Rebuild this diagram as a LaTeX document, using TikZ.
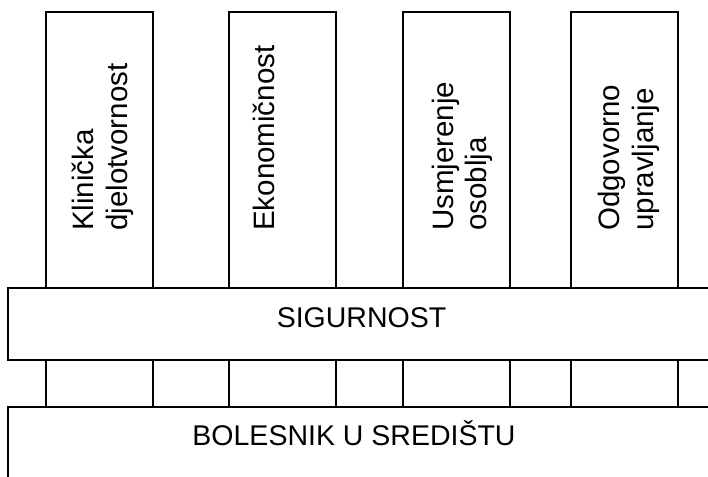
\documentclass[tikz,border=0pt]{standalone}
\usepackage{fontspec}
\setmainfont{Liberation Sans}
\begin{document}
\begin{tikzpicture}[x=1pt,y=-1pt,
  box/.style={draw=black,line width=1.5pt,inner sep=0pt,outer sep=0pt},
  pillar/.style={box,anchor=north west,minimum width=107pt,minimum height=395pt},
  bar/.style={box,fill=white,anchor=north west,minimum width=707pt},
  lbl/.style={inner sep=0pt,font=\fontsize{28.5}{34}\selectfont},
  vlbl/.style={inner sep=0pt,font=\fontsize{29.5}{34}\selectfont,rotate=90,anchor=base west}]
\useasboundingbox (0,0) rectangle (708,476);
\clip (0,0) rectangle (708,476);
% pillars
\node[pillar] (p1) at (46,12) {};
\node[pillar] (p2) at (229,12) {};
\node[pillar] (p3) at (403,12) {};
\node[pillar] (p4) at (571,12) {};
% bars
\node[bar,minimum height=72pt] (sig) at (8,288) {};
\node[bar,minimum height=90pt] (bol) at (8,407) {};
% labels
\node[lbl,anchor=base] (tsig) at (361.5,327) {SIGURNOST};
\node[lbl,anchor=base] (tbol) at (354,445) {BOLESNIK U SREDIŠTU};
\node[vlbl] (t1a) at (93,231) {Klinička};
\node[vlbl] (t1b) at (127,231) {djelotvornost};
\node[vlbl] (t2) at (274,231) {Ekonomičnost};
\node[vlbl] (t3a) at (453,231) {Usmjerenje};
\node[vlbl] (t3b) at (486,231) {osoblja};
\node[vlbl] (t4a) at (619,231) {Odgovorno};
\node[vlbl] (t4b) at (653,231) {upravljanje};
\end{tikzpicture}
\end{document}
